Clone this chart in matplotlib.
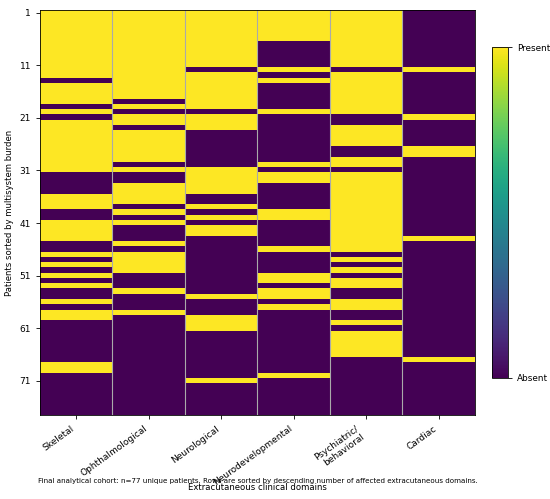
import numpy as np
import matplotlib
matplotlib.use('Agg')
import matplotlib.pyplot as plt


domains = ['Skeletal', 'Ophthalmological', 'Neurological', 'Neurodevelopmental',
           'Psychiatric/\nbehavioral', 'Cardiac']
n_patients = 77

# patient rows (1-based) where each domain is present
skeletal = list(range(1, 14)) + list(range(15, 19)) + [20] + list(range(22, 32)) + \
    [36, 37, 38, 41, 42, 43, 44, 47, 49, 51, 53, 56, 58, 59, 68, 69]
ophthalmological = list(range(1, 18)) + [19, 21, 22] + list(range(24, 30)) + [31] + \
    [34, 35, 36, 37, 39, 41, 45, 47, 48, 49, 50, 54, 58]
neurological = list(range(1, 12)) + list(range(13, 20)) + [21, 22, 23] + \
    list(range(31, 36)) + [38, 40, 42, 43, 55, 59, 60, 61, 71]
neurodevelopmental = list(range(1, 7)) + [12, 14, 20, 30, 32, 33, 39, 40, 46,
                                          51, 52, 54, 55, 57, 70]
psychiatric = list(range(1, 12)) + list(range(13, 21)) + [23, 24, 25, 26, 29, 30] + \
    list(range(32, 47)) + [48, 50, 52, 53, 56, 57, 60, 62, 63, 64, 65, 66]
cardiac = [12, 21, 27, 28, 44, 67]

present = [skeletal, ophthalmological, neurological, neurodevelopmental, psychiatric, cardiac]

mat = np.zeros((n_patients, len(domains)))
for j, rows in enumerate(present):
    for r in rows:
        mat[r - 1, j] = 1

fig = plt.figure(figsize=(5.5, 4.99), dpi=100)
ax = fig.add_axes([0.0727, 0.168, 0.7909, 0.812])
im = ax.imshow(mat, aspect='auto', cmap='viridis', vmin=0, vmax=1, interpolation='nearest')

for x in np.arange(0.5, len(domains) - 1, 1):
    ax.axvline(x, color='#aaaaaa', lw=0.8)

ax.tick_params(labelsize=6.5, length=3, width=0.6)
for s in ax.spines.values():
    s.set_linewidth(0.6)
ax.set_xticks(range(len(domains)))
ax.set_xticklabels(domains, rotation=36, ha='right')
ax.set_yticks(range(0, n_patients, 10))
ax.set_yticklabels([str(i + 1) for i in range(0, n_patients, 10)])
ax.set_ylabel('Patients sorted by multisystem burden', fontsize=6.1)
ax.set_xlabel('Extracutaneous clinical domains', fontsize=6.1)
ax.xaxis.set_label_coords(0.5, -0.168)

cax = fig.add_axes([0.8945, 0.2425, 0.029, 0.663])
cb = fig.colorbar(im, cax=cax, ticks=[0, 1])
cb.ax.set_yticklabels(['Absent', 'Present'])
cb.ax.tick_params(labelsize=6.4, length=3, width=0.6)
cb.outline.set_linewidth(0.6)

fig.text(0.468, 0.033, 'Final analytical cohort: n=77 unique patients. Rows are sorted by '
         'descending number of affected extracutaneous domains.', ha='center', fontsize=5.1)

plt.savefig('out.png', dpi=100)
